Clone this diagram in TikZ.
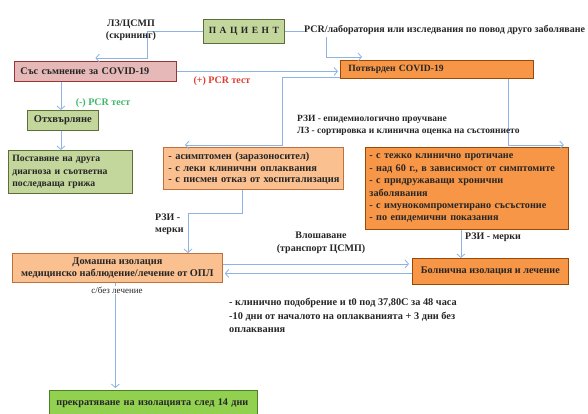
\documentclass[tikz,border=0pt]{standalone}
\usepackage{fontspec}
\setmainfont{Liberation Serif}
\usetikzlibrary{positioning,arrows.meta}
\definecolor{lgreen}{HTML}{C3D69B}
\definecolor{lgreenD}{HTML}{5E6E3B}
\definecolor{pinkF}{HTML}{E6B9B8}
\definecolor{pinkD}{HTML}{943634}
\definecolor{orF}{HTML}{F79646}
\definecolor{orD}{HTML}{984807}
\definecolor{peachF}{HTML}{FAC090}
\definecolor{peachD}{HTML}{C0703A}
\definecolor{gF}{HTML}{92D050}
\definecolor{gD}{HTML}{4E7F28}
\definecolor{lineC}{HTML}{8DB3E2}
\definecolor{txt}{HTML}{262626}
\definecolor{redT}{HTML}{E03C31}
\definecolor{grnT}{HTML}{3DB76B}

\begin{document}
\begin{tikzpicture}[x=1pt, y=-1pt, >={Straight Barb[length=3.5pt,width=8pt]},
  box/.style={draw, line width=0.8pt, inner sep=0pt, anchor=north west, text=txt,
              font=\fontsize{10.2}{12}\selectfont\bfseries},
  lbl/.style={inner sep=0pt, text=txt, font=\fontsize{10}{12.5}\selectfont\bfseries},
  conn/.style={draw=lineC, line width=0.8pt, ->}]
  \useasboundingbox (0,0) rectangle (588,413);
  % boxes
  \node[box, fill=lgreen, draw=lgreenD, minimum width=81pt, minimum height=24pt,
        font=\fontsize{9.5}{12}\selectfont\bfseries] (pat) at (203,19)
       {П\hspace{3.5pt}А\hspace{3.5pt}Ц\hspace{3.5pt}И\hspace{3.5pt}Е\hspace{3.5pt}Н\hspace{3.5pt}Т};
  \node[box, fill=pinkF, draw=pinkD, text width=150pt, inner xsep=6pt, align=left, minimum height=20pt] (susp) at (14,61)
       {Със съмнение за COVID-19};
  \node[box, fill=orF, draw=orD, text width=177pt, inner xsep=8pt, align=left, minimum height=18pt,
        font=\fontsize{9.6}{12}\selectfont\bfseries] (conf) at (340,60)
       {Потвърден COVID-19};
  \node[box, fill=lgreen, draw=lgreenD, minimum width=71pt, minimum height=20pt,
        font=\fontsize{10.5}{12}\selectfont\bfseries] (rej) at (27,110) {Отхвърляне};
  \node[box, fill=lgreen, draw=lgreenD, text width=116pt, inner xsep=4pt, align=left, minimum height=43pt,
        font=\fontsize{9.7}{12.5}\selectfont\bfseries] (diag) at (8,150)
       {Поставяне на друга\\диагноза и съответна\\последваща грижа};
  \node[box, fill=peachF, draw=peachD, text width=176pt, inner xsep=2pt, align=left, minimum height=42pt,
        font=\fontsize{10.4}{11.5}\selectfont\bfseries] (asym) at (163,147)
       {\hspace{3pt}- асимптомен (заразоносител)\\\hspace{3pt}- с леки клинични оплаквания\\\hspace{3pt}- с писмен отказ от хоспитализация};
  \node[box, fill=orF, draw=orD, text width=195pt, inner xsep=4pt, align=left, minimum height=82pt,
        font=\fontsize{10.2}{12.4}\selectfont\bfseries] (sev) at (365,147)
       {- с тежко клинично протичане\\- над 60 г., в зависимост от симптомите\\- с придружаващи хронични\\заболявания\\- с имунокомпрометирано съсъстоние\\- по епидемични показания};
  \node[box, fill=peachF, draw=peachD, minimum width=210pt, minimum height=29pt, align=center,
        font=\fontsize{10.3}{12.5}\selectfont\bfseries] (home) at (12,253)
       {Домашна изолация\\медицинско наблюдение/лечение от ОПЛ};
  \node[box, fill=orF, draw=orD, minimum width=156pt, minimum height=26pt] (hosp) at (412,258)
       {Болнична изолация и лечение};
  \node[box, fill=gF, draw=gD, text width=194pt, inner xsep=7pt, align=left, minimum height=25pt] (fin) at (49,390)
       {прекратяване на изолацията след 14 дни};
  % connectors
  \draw[conn] (pat.west) -| ([xshift=52pt,yshift=3pt]susp.north) -- ([yshift=3pt]susp.north);
  \draw[conn] (pat.east) -| ([xshift=-14pt,yshift=3pt]conf.north west) -- ([xshift=22pt,yshift=3pt]conf.north west);
  \draw[conn] (susp.east) -- ([xshift=-2pt]susp.east -| conf.west);
  \draw[conn] ([yshift=1pt]conf.south west) -| ([xshift=-61pt,yshift=2pt]asym.north east) -- ([xshift=22pt,yshift=2pt]asym.north west);
  \draw[conn] ([xshift=-25pt]conf.south east) |- ([xshift=-5pt,yshift=2pt]sev.north east);
  \draw[conn] ([xshift=-2pt]rej.north |- susp.south) -- ([xshift=-2pt]rej.north);
  \draw[conn] ([xshift=-2pt]rej.south) -- ([xshift=-2pt]rej.south |- diag.north);
  \draw[conn] ([xshift=-11pt]asym.south) -- ++(0,24) -| ([xshift=176pt]home.north west);
  \draw[conn] ([xshift=-6pt]sev.south) -- ([xshift=-6pt]sev.south |- hosp.north);
  \draw[conn, shorten >=3pt] ([yshift=4pt]home.east) -- ([yshift=4pt]home.east -| hosp.west);
  \draw[conn, shorten >=2pt] ([yshift=-2pt]hosp.west) -- ([yshift=-2pt]hosp.west -| home.east);
  \draw[conn, shorten >=2pt] ([xshift=-2pt]home.south) -- ([xshift=-2pt]home.south |- fin.north);
  % labels
  \node[lbl, align=center] (scr) at (131,30) {ЛЗ/ЦСМП\\(скрининг)};
  \node[lbl, anchor=west, fill=white, inner ysep=2pt] (pcr) at (304,30)
       {PCR/лаборатория или изследвания по повод друго заболяване};
  \node[lbl, text=redT] (plus) at (222,81) {(+) PCR тест};
  \node[lbl, text=grnT] (neg) at (103,103) {(-) PCR тест};
  \node[lbl, anchor=north west, align=left, font=\fontsize{9.5}{12.5}\selectfont\bfseries] (rzi) at (297,115)
       {РЗИ - епидемиологично проучване\\ЛЗ - сортировка и клинична оценка на състоянието};
  \node[lbl, anchor=west, align=left] (mea1) at (155,224) {РЗИ -\\мерки};
  \node[lbl] (mea2) at (493,237) {РЗИ - мерки};
  \node[lbl, align=center] (wors) at (321,243) {Влошаване\\(транспорт ЦСМП)};
  \node[lbl, font=\fontsize{9}{10}\selectfont, fill=white, inner sep=1pt] (wl) at (117,290) {с/без лечение};
  \node[lbl, anchor=north west, align=left, font=\fontsize{10.3}{13.5}\selectfont\bfseries] (notes) at (229,298)
       {- клинично подобрение и t0 под 37,80С за 48 часа\\-10 дни от началото на оплакванията + 3 дни без\\оплаквания};
\end{tikzpicture}
\end{document}
